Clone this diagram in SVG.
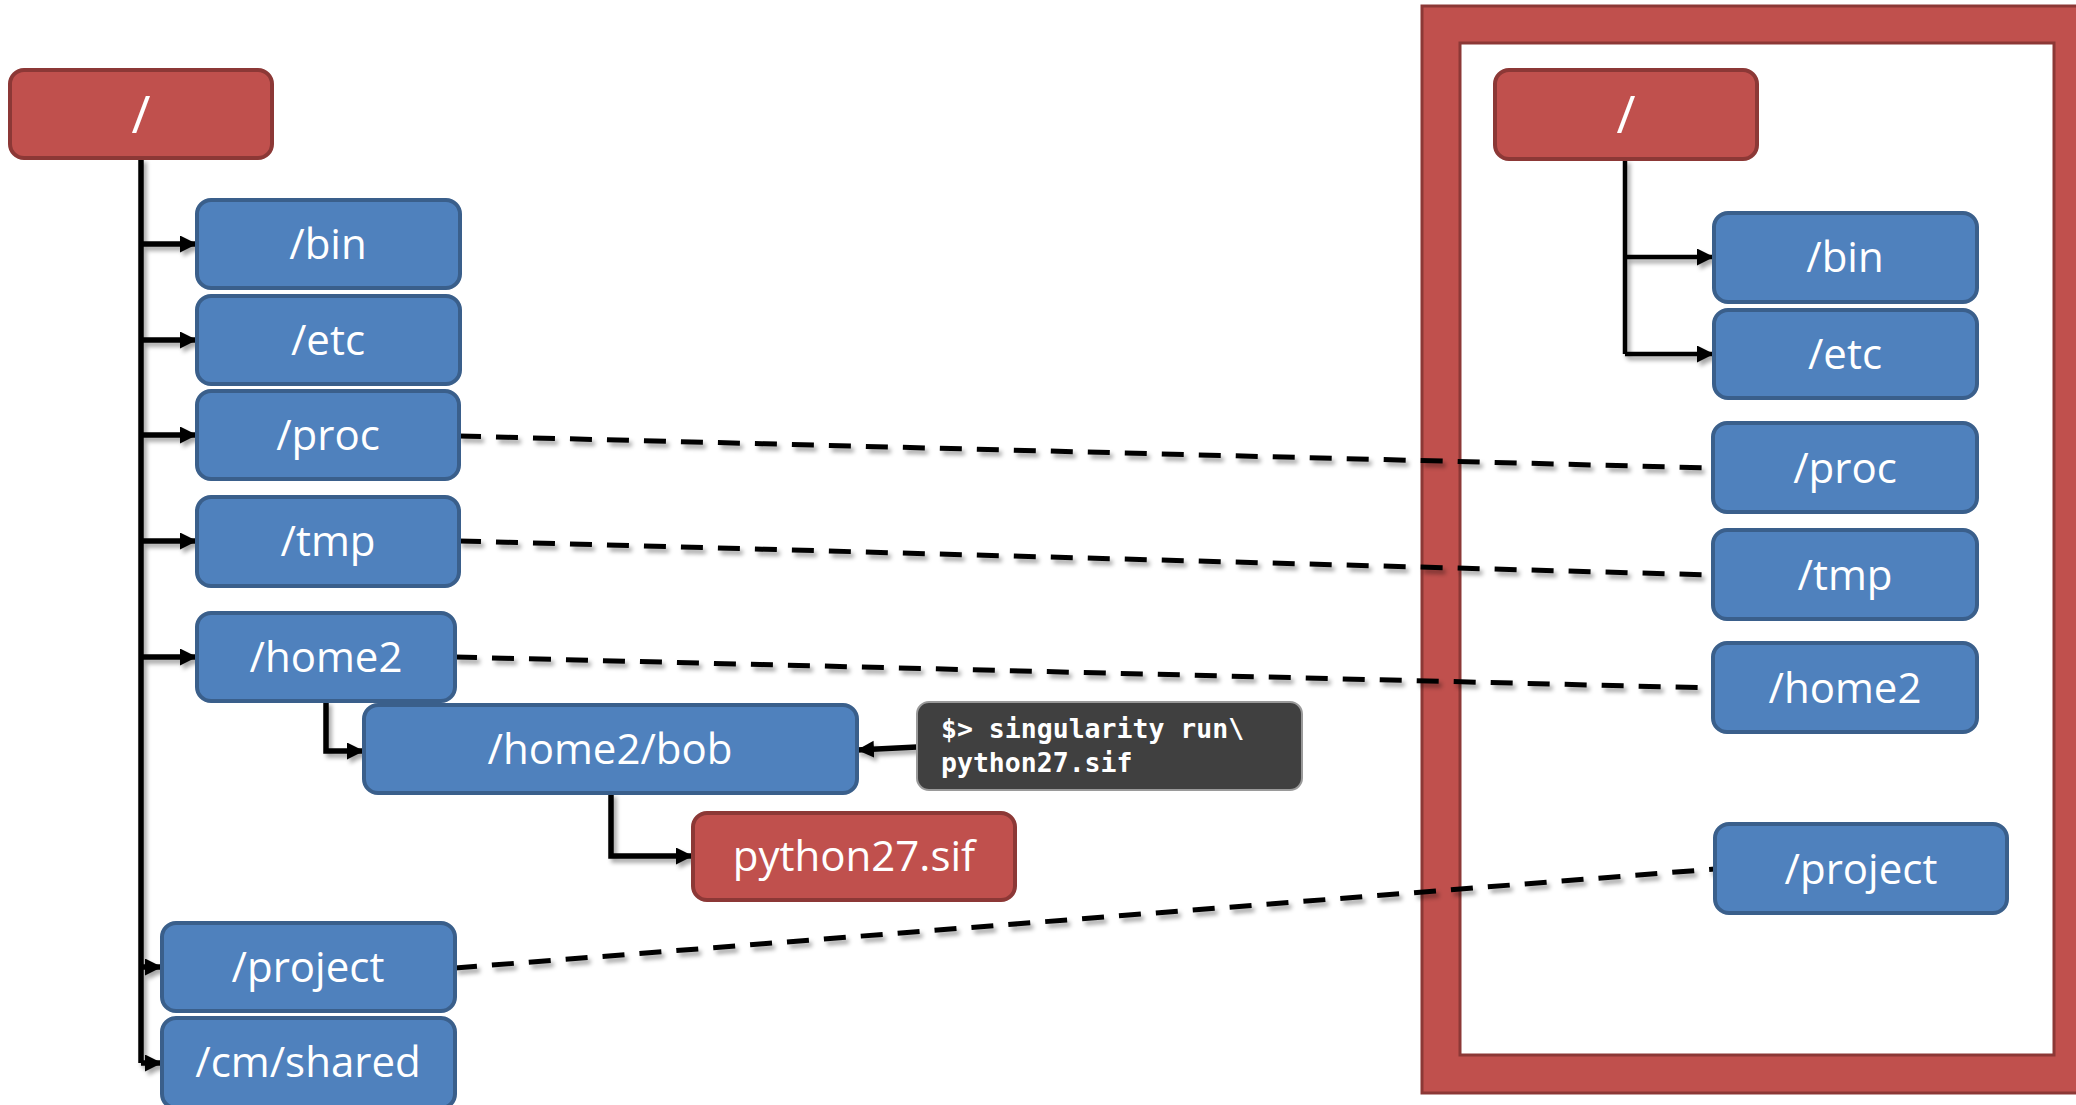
<svg xmlns="http://www.w3.org/2000/svg" width="2076" height="1105" viewBox="0 0 2076 1105">
<defs>
<style>
.blue{fill:#4f81bd;stroke:#3a5f8b;stroke-width:4}
.red{fill:#c0504d;stroke:#8c3836;stroke-width:4}
.lbl{font-family:"Open Sans","DejaVu Sans",sans-serif;font-size:42px;fill:#ffffff;text-anchor:middle}
.slash{font-size:52px}
.mono{font-family:"DejaVu Sans Mono","Liberation Mono",monospace;font-size:26.5px;font-weight:bold;fill:#ffffff}
.solid{fill:none;stroke:#000;stroke-width:5.5;stroke-linejoin:miter}
.dash{fill:none;stroke:#000;stroke-width:5;stroke-dasharray:22 15}
</style>
<filter id="sh" x="-5%" y="-50%" width="110%" height="200%">
<feDropShadow dx="3" dy="4" stdDeviation="2.2" flood-color="#000" flood-opacity="0.35"/>
</filter>
<marker id="ah" markerUnits="userSpaceOnUse" markerWidth="18" markerHeight="18" refX="17" refY="8.5" orient="auto">
<path d="M0,0 L17,8.5 L0,17 z" fill="#000"/>
</marker>
</defs>
<rect width="2076" height="1105" fill="#ffffff"/>
<g id="frame">
<path d="M1422,6 H2092 V1093 H1422 Z M1460,43 V1055 H2054 V43 Z" fill="#c0504d" fill-rule="evenodd" stroke="#8c3836" stroke-width="3"/>
</g>
<g id="connectors" filter="url(#sh)">
<path class="solid" d="M141,158 V1063"/>
<path class="solid" d="M141,244 H197" marker-end="url(#ah)"/>
<path class="solid" d="M141,340 H197" marker-end="url(#ah)"/>
<path class="solid" d="M141,435 H197" marker-end="url(#ah)"/>
<path class="solid" d="M141,541 H197" marker-end="url(#ah)"/>
<path class="solid" d="M141,657 H197" marker-end="url(#ah)"/>
<path class="solid" d="M141,967 H162" marker-end="url(#ah)"/>
<path class="solid" d="M141,1063 H162" marker-end="url(#ah)"/>
<path class="solid" d="M326,701 V751 H364" marker-end="url(#ah)"/>
<path class="solid" d="M611,793 V856 H693" marker-end="url(#ah)"/>
<path class="solid" d="M917,747 L857,750" marker-end="url(#ah)"/>
<path class="solid" style="stroke-width:4.5" d="M1625,159 V354"/>
<path class="solid" style="stroke-width:4.5" d="M1625,257 H1714" marker-end="url(#ah)"/>
<path class="solid" style="stroke-width:4.5" d="M1625,354 H1714" marker-end="url(#ah)"/>
<path class="dash" d="M459,436 L1713,468"/>
<path class="dash" d="M459,541 L1713,575"/>
<path class="dash" d="M455,657 L1713,688"/>
<path class="dash" d="M455,968 L1715,869"/>
</g>
<g id="root-left"><rect class="red" x="10" y="70" width="262" height="88" rx="14"/><text class="lbl slash" x="141" y="133">/</text></g>
<g id="bin-left"><rect class="blue" x="197" y="200" width="263" height="88" rx="14"/><text class="lbl" x="328" y="259">/bin</text></g>
<g id="etc-left"><rect class="blue" x="197" y="296" width="263" height="88" rx="14"/><text class="lbl" x="328" y="355">/etc</text></g>
<g id="proc-left"><rect class="blue" x="197" y="391" width="262" height="88" rx="14"/><text class="lbl" x="328" y="450">/proc</text></g>
<g id="tmp-left"><rect class="blue" x="197" y="497" width="262" height="89" rx="14"/><text class="lbl" x="328" y="556">/tmp</text></g>
<g id="home2-left"><rect class="blue" x="197" y="613" width="258" height="88" rx="14"/><text class="lbl" x="326" y="672">/home2</text></g>
<g id="bob"><rect class="blue" x="364" y="705" width="493" height="88" rx="14"/><text class="lbl" x="610" y="764">/home2/bob</text></g>
<g id="python27"><rect class="red" x="693" y="813" width="322" height="87" rx="14"/><text class="lbl" x="854" y="871">python27.sif</text></g>
<g id="project-left"><rect class="blue" x="162" y="923" width="293" height="88" rx="14"/><text class="lbl" x="308" y="982">/project</text></g>
<g id="cmshared"><rect class="blue" x="162" y="1018" width="293" height="90" rx="14"/><text class="lbl" x="308" y="1077">/cm/shared</text></g>
<g id="tooltip"><rect x="917" y="702" width="385" height="88" rx="12" fill="#404040" stroke="#9a9a9a" stroke-width="2"/><text class="mono" x="941" y="738">$&gt; singularity run\</text><text class="mono" x="941" y="772">python27.sif</text></g>
<g id="root-right"><rect class="red" x="1495" y="70" width="262" height="89" rx="14"/><text class="lbl slash" x="1626" y="133">/</text></g>
<g id="bin-right"><rect class="blue" x="1714" y="213" width="263" height="89" rx="14"/><text class="lbl" x="1845" y="272">/bin</text></g>
<g id="etc-right"><rect class="blue" x="1714" y="310" width="263" height="88" rx="14"/><text class="lbl" x="1845" y="369">/etc</text></g>
<g id="proc-right"><rect class="blue" x="1713" y="423" width="264" height="89" rx="14"/><text class="lbl" x="1845" y="483">/proc</text></g>
<g id="tmp-right"><rect class="blue" x="1713" y="530" width="264" height="89" rx="14"/><text class="lbl" x="1845" y="590">/tmp</text></g>
<g id="home2-right"><rect class="blue" x="1713" y="643" width="264" height="89" rx="14"/><text class="lbl" x="1845" y="703">/home2</text></g>
<g id="project-right"><rect class="blue" x="1715" y="824" width="292" height="89" rx="14"/><text class="lbl" x="1861" y="884">/project</text></g>
</svg>
